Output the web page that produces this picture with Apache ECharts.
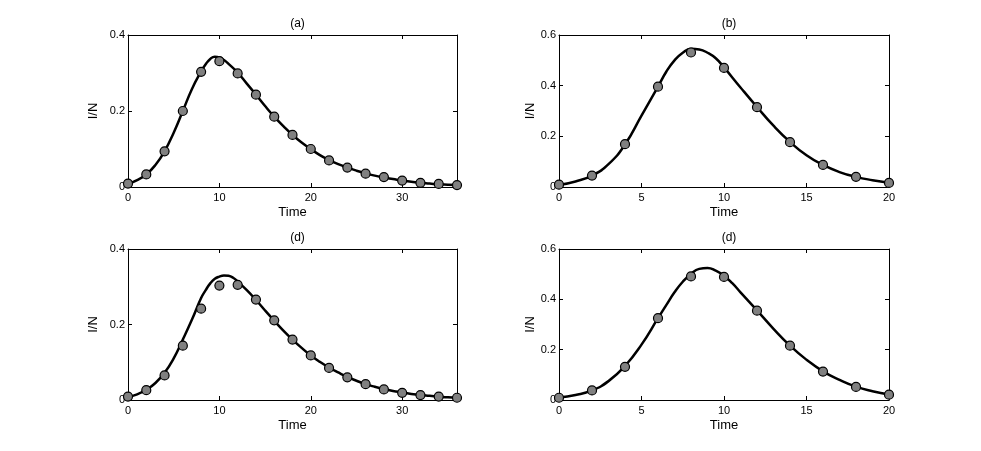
<!DOCTYPE html>
<html>
<head>
<meta charset="utf-8">
<script src="https://cdn.jsdelivr.net/npm/echarts@6/dist/echarts.min.js"></script>
<style>
  html, body { margin: 0; padding: 0; background: #fff; }
  #chart { width: 981px; height: 451px; }
</style>
</head>
<body>
<div id="chart"></div>
<script>
// sample times of the markers
var tA = [0, 2, 4, 6, 8, 10, 12, 14, 16, 18, 20, 22, 24, 26, 28, 30, 32, 34, 36];
var tB = [0, 2, 4, 6, 8, 10, 12, 14, 16, 18, 20];

// (a) top left
var dotsA = [0.009, 0.033, 0.094, 0.200, 0.303, 0.331, 0.299, 0.243, 0.185, 0.137, 0.100, 0.070, 0.051, 0.035, 0.026, 0.017, 0.011, 0.008, 0.005];
var curveTimeA = [0, 1, 2, 3, 4, 5, 6, 7, 8, 8.5, 9, 9.5, 10, 10.5, 11, 12, 13, 14, 15, 16, 17, 18, 19, 20, 21, 22, 23, 24, 25, 26, 27, 28, 29, 30, 31, 32, 33, 34, 35, 36];
var curveA = [0.008, 0.018, 0.033, 0.058, 0.094, 0.143, 0.200, 0.258, 0.304,
  0.323, 0.337, 0.343, 0.341, 0.334, 0.324,
  0.301, 0.272, 0.243, 0.213, 0.185, 0.160, 0.137, 0.117, 0.100, 0.084, 0.071, 0.060, 0.051, 0.043, 0.036, 0.030, 0.025, 0.021, 0.017, 0.014, 0.011, 0.009, 0.007, 0.006, 0.005];

// (b) top right
var dotsB = [0.009, 0.045, 0.169, 0.396, 0.531, 0.470, 0.315, 0.177, 0.087, 0.040, 0.016];
var curveTimeB = [0, 1, 2, 3, 4, 5, 6, 6.5, 7, 7.5, 8, 8.5, 9, 9.5, 10, 11, 12, 13, 14, 15, 16, 17, 18, 19, 20];
var curveB = [0.008, 0.022, 0.045, 0.090, 0.168, 0.282, 0.396,
  0.455, 0.500, 0.530, 0.546, 0.543, 0.530, 0.508, 0.472,
  0.393, 0.316, 0.242, 0.178, 0.125, 0.087, 0.059, 0.040, 0.027, 0.017];

// bottom left
var dotsC = [0.009, 0.026, 0.065, 0.144, 0.242, 0.303, 0.305, 0.266, 0.211, 0.160, 0.118, 0.085, 0.060, 0.042, 0.028, 0.019, 0.013, 0.009, 0.006];
var curveTimeC = [0, 1, 2, 3, 4, 5, 6, 7, 8, 8.5, 9, 9.5, 10, 10.5, 11, 11.5, 12, 13, 14, 15, 16, 17, 18, 19, 20, 21, 22, 23, 24, 25, 26, 27, 28, 29, 30, 31, 32, 33, 34, 35, 36];
var curveC = [0.008, 0.015, 0.027, 0.045, 0.072, 0.110, 0.160, 0.213, 0.270,
  0.291, 0.309, 0.321, 0.327, 0.330, 0.329, 0.324, 0.314,
  0.291, 0.265, 0.237, 0.210, 0.184, 0.160, 0.138, 0.118, 0.101, 0.086, 0.073, 0.061, 0.051, 0.042, 0.035, 0.029, 0.024, 0.020, 0.016, 0.013, 0.011, 0.009, 0.007, 0.006];

// bottom right
var dotsD = [0.009, 0.038, 0.132, 0.325, 0.491, 0.489, 0.355, 0.216, 0.113, 0.052, 0.021];
var curveTimeD = [0, 1, 2, 3, 4, 5, 6, 6.5, 7, 7.5, 8, 8.5, 9, 9.5, 10, 10.5, 11, 12, 13, 14, 15, 16, 17, 18, 19, 20];
var curveD = [0.010, 0.020, 0.038, 0.075, 0.135, 0.220, 0.325,
  0.377, 0.428, 0.470, 0.501, 0.521, 0.525, 0.514, 0.494, 0.464,
  0.428, 0.356, 0.283, 0.216, 0.160, 0.114, 0.080, 0.053, 0.035, 0.022];

var titles = ['(a)', '(b)', '(d)', '(d)'];

function pairs(xs, ys) {
  return ys.map(function (v, i) { return [xs[i], v]; });
}

var panels = [
  { dots: pairs(tA, dotsA), curve: pairs(curveTimeA, curveA), xmax: 36, xint: 10, ymax: 0.4, yint: 0.2 },
  { dots: pairs(tB, dotsB), curve: pairs(curveTimeB, curveB), xmax: 20, xint: 5, ymax: 0.6, yint: 0.2 },
  { dots: pairs(tA, dotsC), curve: pairs(curveTimeC, curveC), xmax: 36, xint: 10, ymax: 0.4, yint: 0.2 },
  { dots: pairs(tB, dotsD), curve: pairs(curveTimeD, curveD), xmax: 20, xint: 5, ymax: 0.6, yint: 0.2 }
];

var boxes = [
  { left: 128, top: 35, width: 329, height: 152, yGap: 28 },
  { left: 559, top: 35, width: 330, height: 152, yGap: 22 },
  { left: 128, top: 249, width: 329, height: 151, yGap: 28 },
  { left: 559, top: 249, width: 330, height: 151, yGap: 22 }
];

var font = 'Liberation Sans, Arial, Helvetica, sans-serif';
var grid = [], xAxis = [], yAxis = [], series = [], title = [];

panels.forEach(function (p, i) {
  var b = boxes[i];
  grid.push({ left: b.left, top: b.top, width: b.width, height: b.height });
  title.push({ text: titles[i], left: b.left + b.width / 2, top: b.top - 22, textAlign: 'center',
    textStyle: { fontFamily: font, fontSize: 12, fontWeight: 'normal', color: '#000' } });

  var tick = { show: true, inside: true, length: 4, lineStyle: { color: '#000', width: 1 } };
  var line = { show: true, onZero: false, lineStyle: { color: '#000', width: 1 } };

  xAxis.push({ gridIndex: i, type: 'value', min: 0, max: p.xmax, interval: p.xint, position: 'bottom',
    splitLine: { show: false }, axisLine: line, axisTick: tick,
    name: 'Time', nameLocation: 'middle', nameGap: 19,
    nameTextStyle: { fontFamily: font, fontSize: 13, color: '#000' },
    axisLabel: { fontFamily: font, fontSize: 11, color: '#000', margin: 5, showMaxLabel: p.xmax % p.xint === 0 } });
  xAxis.push({ gridIndex: i, type: 'value', min: 0, max: p.xmax, interval: p.xint, position: 'top',
    splitLine: { show: false }, axisLine: line, axisTick: tick, axisLabel: { show: false } });

  yAxis.push({ gridIndex: i, type: 'value', min: 0, max: p.ymax, interval: p.yint, position: 'left',
    splitLine: { show: false }, axisLine: line, axisTick: tick,
    name: 'I/N', nameLocation: 'middle', nameGap: b.yGap,
    nameTextStyle: { fontFamily: font, fontSize: 13, color: '#000' },
    axisLabel: { fontFamily: font, fontSize: 11, color: '#000', margin: 3,
      formatter: function (v) { return v === 0 ? '0' : v.toFixed(1); } } });
  yAxis.push({ gridIndex: i, type: 'value', min: 0, max: p.ymax, interval: p.yint, position: 'right',
    splitLine: { show: false }, axisLine: line, axisTick: tick, axisLabel: { show: false } });

  series.push({ type: 'line', xAxisIndex: 2 * i, yAxisIndex: 2 * i, data: p.curve,
    smooth: true, showSymbol: false, symbol: 'none', silent: true,
    lineStyle: { color: '#000', width: 2.5 }, z: 2 });
  series.push({ type: 'scatter', xAxisIndex: 2 * i, yAxisIndex: 2 * i, data: p.dots,
    symbol: 'circle', symbolSize: 9, silent: true,
    itemStyle: { color: '#808080', borderColor: '#000', borderWidth: 1.2, opacity: 1 }, z: 3 });
});

var myChart = echarts.init(document.getElementById('chart'), null, { renderer: 'canvas' });
myChart.setOption({
  animation: false,
  backgroundColor: '#fff',
  title: title,
  grid: grid,
  xAxis: xAxis,
  yAxis: yAxis,
  series: series
});
</script>
</body>
</html>
